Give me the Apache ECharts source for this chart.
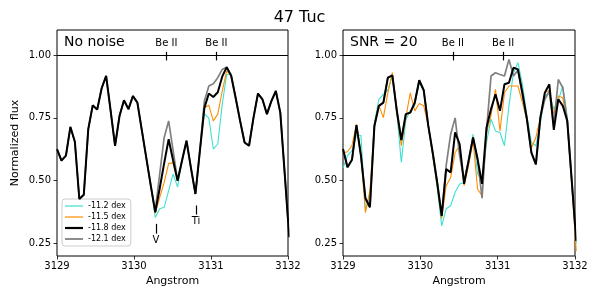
<!DOCTYPE html>
<html>
<head>
<meta charset="utf-8">
<script src="https://cdn.jsdelivr.net/npm/echarts@6/dist/echarts.min.js"></script>
<style>html,body{margin:0;padding:0;background:#fff}#c{width:599px;height:300px}</style>
</head>
<body>
<div id="c"></div>
<script>
const wavelength = [3129.000,3129.058,3129.116,3129.174,3129.232,3129.290,3129.348,3129.406,3129.464,3129.522,
3129.580,3129.638,3129.696,3129.754,3129.812,3129.870,3129.928,3129.986,3130.044,3130.102,
3130.160,3130.218,3130.276,3130.334,3130.392,3130.450,3130.508,3130.566,3130.624,3130.682,
3130.740,3130.798,3130.856,3130.914,3130.972,3131.030,3131.088,3131.146,3131.204,3131.262,
3131.320,3131.378,3131.436,3131.494,3131.552,3131.610,3131.668,3131.726,3131.784,3131.842,
3131.900,3131.958,3132.016];

const seriesNames = ['-11.2 dex','-11.5 dex','-11.8 dex','-12.1 dex'];
const panelTitles = ['No noise','SNR = 20'];
const xTicks = [3129,3130,3131,3132];
const yTicks = [0.25,0.50,0.75,1.00];
const beLines = [3130.42, 3131.07];
const lineIds = [{name:'V', x:3130.286, top:0.328, bottom:0.289},{name:'Ti', x:3130.805, top:0.401, bottom:0.365}];

// No noise
const noNoise112 = [0.626,0.580,0.600,0.714,0.655,0.427,0.444,0.705,0.800,0.783,
0.868,0.917,0.780,0.639,0.758,0.820,0.785,0.837,0.811,0.700,
0.590,0.480,0.353,0.388,0.394,0.460,0.527,0.474,0.580,0.659,
0.550,0.447,0.620,0.767,0.749,0.626,0.646,0.804,0.923,0.925,
0.830,0.738,0.652,0.639,0.751,0.847,0.824,0.765,0.817,0.857,
0.771,0.525,0.275];
const noNoise115 = [0.626,0.580,0.600,0.714,0.655,0.427,0.444,0.705,0.800,0.783,
0.868,0.917,0.780,0.639,0.758,0.820,0.785,0.837,0.811,0.700,
0.590,0.480,0.370,0.434,0.493,0.569,0.571,0.500,0.580,0.659,
0.550,0.447,0.620,0.790,0.800,0.738,0.765,0.857,0.937,0.918,
0.830,0.738,0.652,0.639,0.751,0.847,0.824,0.765,0.817,0.857,
0.771,0.525,0.275];
const noNoise118 = [0.626,0.580,0.600,0.714,0.655,0.427,0.444,0.705,0.800,0.783,
0.868,0.917,0.780,0.639,0.758,0.820,0.785,0.837,0.811,0.700,
0.590,0.480,0.374,0.470,0.570,0.665,0.580,0.500,0.580,0.659,
0.550,0.447,0.620,0.790,0.847,0.833,0.852,0.915,0.952,0.918,
0.830,0.738,0.652,0.639,0.751,0.847,0.824,0.765,0.817,0.857,
0.771,0.525,0.275];
const noNoise121 = [0.626,0.580,0.600,0.714,0.655,0.427,0.444,0.705,0.800,0.783,
0.868,0.917,0.780,0.639,0.758,0.820,0.785,0.837,0.811,0.700,
0.590,0.480,0.380,0.527,0.672,0.738,0.620,0.500,0.580,0.659,
0.550,0.447,0.620,0.817,0.877,0.886,0.910,0.943,0.952,0.918,
0.830,0.738,0.652,0.639,0.751,0.847,0.824,0.765,0.817,0.857,
0.771,0.525,0.275];

// SNR = 20
const snr112 = [0.550,0.600,0.620,0.680,0.680,0.381,0.440,0.730,0.824,0.844,
0.860,0.917,0.770,0.573,0.740,0.780,0.800,0.890,0.857,0.720,
0.600,0.470,0.320,0.388,0.400,0.454,0.487,0.493,0.580,0.685,
0.527,0.500,0.652,0.745,0.698,0.692,0.639,0.798,0.930,0.970,
0.884,0.760,0.652,0.639,0.730,0.837,0.850,0.785,0.820,0.877,
0.750,0.500,0.250];
const snr115 = [0.610,0.615,0.640,0.725,0.600,0.373,0.460,0.720,0.800,0.751,
0.850,0.930,0.780,0.639,0.750,0.850,0.778,0.807,0.798,0.720,
0.600,0.480,0.350,0.480,0.513,0.612,0.639,0.480,0.560,0.660,
0.467,0.440,0.692,0.760,0.864,0.698,0.850,0.877,0.877,0.877,
0.811,0.740,0.630,0.672,0.750,0.850,0.860,0.765,0.837,0.830,
0.730,0.480,0.220];
const snr118 = [0.626,0.553,0.583,0.721,0.600,0.430,0.394,0.718,0.798,0.811,
0.910,0.919,0.778,0.662,0.765,0.771,0.811,0.900,0.860,0.720,
0.612,0.493,0.360,0.546,0.533,0.692,0.646,0.487,0.580,0.672,
0.586,0.487,0.712,0.785,0.844,0.778,0.884,0.890,0.950,0.943,
0.850,0.745,0.612,0.565,0.751,0.850,0.884,0.702,0.824,0.798,
0.738,0.500,0.260];
const snr121 = [0.626,0.553,0.583,0.721,0.600,0.430,0.394,0.718,0.798,0.811,
0.910,0.919,0.778,0.662,0.765,0.771,0.811,0.900,0.860,0.720,
0.612,0.493,0.360,0.560,0.685,0.750,0.600,0.500,0.580,0.672,
0.586,0.430,0.700,0.917,0.930,0.923,0.917,0.983,0.917,0.940,
0.840,0.745,0.612,0.565,0.751,0.824,0.856,0.720,0.903,0.870,
0.740,0.500,0.260];

const panels = [[noNoise112,noNoise115,noNoise118,noNoise121],[snr112,snr115,snr118,snr121]];
const colors = ['#40E0D0','#FF8C00','#000000','#808080'];
const widths = [1.1,1.1,2.0,1.7];
const zs = [2,3,5,4];
const FONT = 'DejaVu Sans';

const chart = echarts.init(document.getElementById('c'), null, {renderer:'canvas'});

const grids = [
  {left:57, top:30, width:231, height:226, show:true, borderColor:'#000', borderWidth:1, backgroundColor:'transparent'},
  {left:343, top:30, width:232, height:226, show:true, borderColor:'#000', borderWidth:1, backgroundColor:'transparent'}
];

const xAxes = grids.map((g,k)=>({
  type:'value', gridIndex:k, min:xTicks[0], max:xTicks[xTicks.length-1], interval:1,
  axisLine:{show:false}, splitLine:{show:false},
  axisTick:{show:true, inside:false, length:3.5, lineStyle:{color:'#000', width:0.8}},
  axisLabel:{color:'#000', fontSize:10, fontFamily:FONT, margin:5, formatter:v=>String(v)},
  name:'Angstrom', nameLocation:'middle', nameGap:19,
  nameTextStyle:{color:'#000', fontSize:11, fontFamily:FONT}
}));

const yAxes = grids.map((g,k)=>({
  type:'value', gridIndex:k, min:0.2, max:1.1,
  axisLine:{show:false}, splitLine:{show:false},
  axisTick:{show:true, inside:false, length:3.5, lineStyle:{color:'#000', width:0.8}, customValues:yTicks},
  axisLabel:{color:'#000', fontSize:10, fontFamily:FONT, margin:6, customValues:yTicks, formatter:v=>v.toFixed(2)},
  name: k===0 ? 'Normalized flux' : '', nameLocation:'middle', nameGap:36,
  nameTextStyle:{color:'#000', fontSize:11, fontFamily:FONT}
}));

const series = [];
panels.forEach((arrs,k)=>{
  arrs.forEach((arr,j)=>{
    const s = {
      type:'line', name:seriesNames[j], xAxisIndex:k, yAxisIndex:k,
      data: wavelength.map((w,i)=>[w, arr[i]]),
      symbol:'none', showSymbol:false, animation:false, clip:true, z:zs[j],
      lineStyle:{color:colors[j], width:widths[j]}, itemStyle:{color:colors[j]}
    };
    if (j===2) {
      const ml = [{yAxis:1.0}];
      beLines.forEach(b=>{
        ml.push([{coord:[b,0.979]},{coord:[b,1.013], label:{show:true, position:'end', formatter:'Be II', distance:3, color:'#000', fontSize:10, fontFamily:FONT}}]);
      });
      if (k===0) {
        lineIds.forEach(l=>{
          ml.push([{coord:[l.x,l.top]},{coord:[l.x,l.bottom], label:{show:true, position:'end', formatter:l.name, distance:2, color:'#000', fontSize:10, fontFamily:FONT}}]);
        });
      }
      s.markLine = {silent:true, symbol:'none', animation:false, precision:3,
        lineStyle:{color:'#000', width:1.2, type:'solid'}, label:{show:false},
        emphasis:{disabled:true}, data:ml};
    }
    series.push(s);
  });
});

const legendIcons = ['path://M0,0h18v1.2h-18z','path://M0,0h18v1.2h-18z','path://M0,0h18v2.2h-18z','path://M0,0h18v1.8h-18z'];

chart.setOption({
  backgroundColor:'#fff',
  animation:false,
  title:{text:'47 Tuc', left:'center', top:5, textStyle:{color:'#000', fontSize:16, fontWeight:'normal', fontFamily:FONT}},
  legend:{data:seriesNames.map((n,j)=>({name:n, icon:legendIcons[j], itemStyle:{color:colors[j], borderWidth:0}})),
    orient:'vertical', left:62, top:199, itemWidth:18, itemHeight:8, itemGap:3, symbolKeepAspect:true,
    padding:[3,5,3,3], borderColor:'#ccc', borderWidth:1, borderRadius:3, backgroundColor:'#fff',
    textStyle:{color:'#000', fontSize:8, fontFamily:FONT}, selectedMode:false},
  grid:grids, xAxis:xAxes, yAxis:yAxes, series:series,
  graphic:[
    {type:'text', left:64, top:35, style:{text:panelTitles[0], fill:'#000', font:'14px "DejaVu Sans"'}},
    {type:'text', left:350, top:35, style:{text:panelTitles[1], fill:'#000', font:'14px "DejaVu Sans"'}}
  ]
});
</script>
</body>
</html>
